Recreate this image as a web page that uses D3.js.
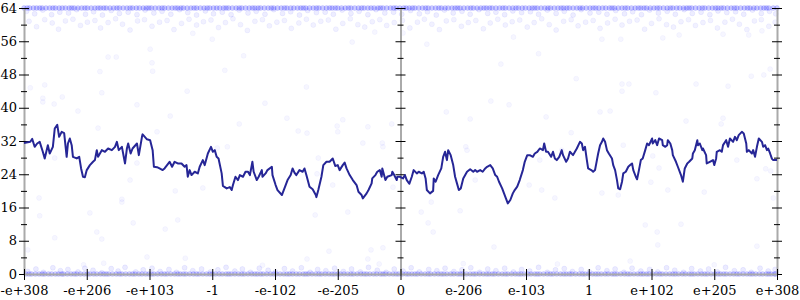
<!DOCTYPE html>
<meta charset="utf-8">
<style>
body { margin: 0; }
svg { display: block; background: #fff; }
.axis text { font: 13px "DejaVu Serif", serif; fill: #000; }
.axis .domain { stroke: #aaa; stroke-width: 2; }
.axis line { stroke: #000; }
.pt { fill: #00f; stroke: #00f; stroke-width: 0.8; }
.err { fill: none; stroke: #262696; stroke-width: 2; stroke-linejoin: round; }
</style>
<svg width="800" height="300"></svg>
<script src="https://d3js.org/d3.v7.min.js"></script>
<script>

// x is the ordinal position of the input float, 100 units per labelled tick
var xTicks  = [0, 100, 200, 300, 400, 500, 600, 700, 800, 900, 1000, 1100, 1200];
var xLabels = ["-e+308", "-e+206", "-e+103", "-1", "-e-102", "-e-205", "0",
               "e-206", "e-103", "1", "e+102", "e+205", "e+308"];
var yMajor = [0, 8, 16, 24, 32, 40, 48, 56, 64];
var yMinor = [4, 12, 20, 28, 36, 44, 52, 60];

// averaged bits of error (the dark line)
var lineX = [0,10,13,17,21,25,30,33,38,41,46,49,53,56,60,64,68,70,73,76,78,84,88,91,94,97,100,105,110,113,
  116,118,124,129,134,140,145,148,151,156,161,164,166,170,173,180,183,188,189,196,201,205,207,212,216,221,224,228,232,236,
  240,245,251,256,259,261,264,267,272,277,
  280,285,288,293,298,301,304,307,310,315,317,323,328,331,333,337,341,344,349,353,357,360,364,366,371,374,379,380,385,388,
  395,396,401,404,411,412,417,420,425,428,431,434,439,444,447,450,455,460,465,466,469,474,477,482,487,492,496,500,503,508,
  511,514,519,524,530,533,538,540,546,549,554,555,560,563,567,570,571,576,579,586,587,590,594,595,
  599,604,607,610,614,618,621,626,629,634,637,640,642,647,652,653,656,660,665,668,671,674,676,680,684,687,690,693,696,700,
  706,711,716,719,722,727,731,735,738,743,747,751,754,757,762,765,768,771,775,779,782,786,790,795,798,802,806,811,814,818,
  822,827,829,832,835,840,843,846,849,853,857,859,864,867,870,875,878,881,886,889,891,894,897,899,904,907,910,913,915,
  918,921,923,926,929,932,937,939,942,945,947,950,953,955,959,963,966,969,971,975,977,980,983,986,990,993,996,1001,1002,1006,
  1009,1012,1017,1018,1022,1025,1026,1030,1033,1034,1039,1042,1047,1050,1053,1057,1060,1065,1066,1069,1073,1074,1077,1081,1082,1087,1088,1093,1098,1100,
  1103,1104,1109,1112,1114,1119,1122,1125,1130,1133,1136,1139,1144,1147,1151,1152,1155,1160,1162,1165,1168,1171,1176,1178,1181,1184,1186,1189,1192,1194,1200];
var lineY = [31.5,31.8,32.5,30.6,31.4,31.8,29.4,27.8,31,29,30.6,35,35.9,33,34.2,33.9,28.2,31.4,32.6,31,
  28.2,27.8,28.2,25.4,23.4,23.3,25,26.2,27,27.4,29.8,28.2,29.8,29.4,30.2,29.8,30.6,31.8,29.8,30.6,
  26.6,30.2,31.4,29,30.2,31.4,28.6,33,33.6,32.4,32.2,29.8,25.8,25.7,25.4,25,25.4,26.2,27,25.8,
  27,26.6,26.6,25.8,26.2,23.4,25,23.8,24.6,24.2,
  25.8,27.4,26.2,29,30.6,29.4,29.8,28.2,27.8,24.2,21.2,20.6,20.9,20.2,21.4,23.4,22.6,23.8,23.4,24.6,
  24.6,23.8,27,24.6,22.6,23.4,25,23.4,24.2,25,25.8,23.8,21.4,20.2,19,19.4,21.4,22.6,23.8,25.4,
  24.4,23.8,25,24.6,25.4,23.8,21,20.4,19,18.5,20.2,23.4,26.2,27,27,27.8,26,26.2,25,26.2,
  26.8,25.4,23.8,22.6,21.4,19.8,19,18.2,19.4,20.2,21.8,23,23.8,24.6,25,23.4,25.4,22.6,23.4,23.8,
  24.6,23.8,22.6,23.4,
  23.4,23,23.8,22.6,21.7,23.4,25,24.2,24.6,24.2,24.6,23,20.2,19.4,20,23,22.2,23.8,25.4,28.2,
  29.4,27.4,29.8,28.6,26.2,23.4,21.8,20.2,20.6,23,24.6,25.2,24.6,25,24.6,25,24.6,25.4,25.8,26.2,
  25.4,23.8,23.4,22.2,20.6,19.4,18.2,17,17.8,19.4,20.2,21,22.6,25,27,28.6,28.6,28.2,29,29.4,
  30.2,29.8,31.4,29.4,29.4,28.2,29.4,27.8,27.4,28.2,29.8,28.6,27,27.8,29.4,28.6,29.4,30.2,31.8,31.4,
  29.8,30.6,27.4,25.4,25,24.6,25,27.4,29,
  31,31.8,32.6,31.8,29.8,29,27.8,26.2,25,22.6,20.6,20.4,22.2,24.2,24.6,25.8,26.2,26.6,25,23.4,
  22.8,25,27.4,27.8,29.8,31.4,31,32.6,31.4,32.2,31,32.6,32.2,31,30.6,31,32.2,31.4,29.8,28.6,
  27,25.8,23.8,22.2,25.4,26.6,27,27.8,29,29.8,32.2,31,31.4,29.8,30.2,28.6,26.6,27,27.4,26.2,
  27.8,29.4,29.8,29.4,31,32.2,30.6,32.6,31.8,33,32.2,33.4,34.2,33.8,31.4,29.4,29.8,29,29.8,28.2,
  30.6,32.6,31.8,30.6,31,29.8,30.2,29,27.7,27.4,27.4];

// sampled points: exact answers (0 bits) and fully wrong answers (64 bits)
var bandTop = [0,9,20,29,41,50,61,72,80,92,101,113,122,131,143,152,164,173,184,195,203,215,224,236,245,254,266,275,287,296,
  307,318,326,338,347,359,368,377,389,398,410,419,430,441,449,461,470,482,491,500,512,521,533,542,553,564,572,584,593,605,
  614,623,635,644,656,665,676,687,695,707,716,728,737,746,758,767,779,788,799,810,818,830,839,851,860,869,881,890,902,911,
  922,933,941,953,962,974,983,992,1004,1013,1025,1034,1045,1056,1064,1076,1085,1097,1106,1115,1127,1136,1148,1157,1168,1179,1187,1200,
  5,15,25,35,46,56,66,76,86,97,107,118,127,137,148,158,169,179,190,199,209,220,230,241,250,260,271,281,292,302,
  312,322,332,343,353,364,373,383,394,404,415,425,436,445,455,466,476,487,496,506,517,527,538,548,558,568,578,589,599,609,
  619,629,640,650,661,671,682,691,701,712,722,733,742,752,763,773,784,794,805,814,824,835,845,856,865,875,886,896,907,916,
  927,937,947,958,968,979,988,998,1009,1019,1030,1040,1051,1060,1070,1081,1091,1102,1111,1121,1132,1142,1153,1163,1174,1183,1194];
var bandBottom = [3,12,24,33,44,55,63,75,84,96,105,116,127,135,147,156,168,177,188,199,207,219,228,240,249,258,270,279,291,300,
  311,322,330,342,351,363,372,381,393,402,414,423,434,445,453,465,474,486,495,504,516,525,537,546,557,568,576,588,597,609,
  618,627,639,648,660,669,680,691,699,711,720,732,741,750,762,771,783,792,803,814,822,834,843,855,864,873,885,894,906,915,
  926,937,945,957,966,978,987,996,1008,1017,1029,1038,1049,1060,1068,1080,1089,1101,1110,1119,1131,1140,1152,1161,1172,1183,1191,1198,
  8,18,29,39,50,60,69,80,90,101,111,122,131,141,152,162,173,183,194,203,213,224,234,245,254,264,275,285,296,305,
  316,326,336,347,357,368,377,387,398,408,419,428,439,449,459,470,480,491,500,510,521,531,542,551,562,572,582,593,603,613,
  623,633,644,654,665,674,685,695,705,716,726,737,746,756,767,777,788,797,808,818,828,839,849,860,869,879,890,900,911,920,
  931,941,951,962,972,983,992,1002,1013,1023,1034,1043,1054,1064,1074,1085,1095,1106,1115,1125,1136,1146,1157,1166,1177,1187,1196];
var nearTop = [[4,63.2],[17,62.6],[30,63.5],[44,62.4],[57,63],[71,62.8],[84,63.6],[98,62.5],[111,63.1],[125,62.3],[139,63.4],[152,62.7],
  [166,63],[180,62.4],[193,63.5],[207,62.8],[220,63.2],[234,62.5],[248,63.6],[261,62.9],[275,62.3],[289,63.3],[302,62.6],[316,63],
  [330,62.4],[343,63.5],[357,62.8],[370,63.2],[384,62.5],[398,63.6],[412,62.7],[425,63.1],[439,62.3],[452,63.4],[466,62.9],[480,63],
  [493,62.5],[507,63.5],[521,62.7],[534,63.2],[548,62.4],[561,63.6],[575,62.8],[589,63],[602,62.5],[616,63.4],[630,62.6],[643,63.1],
  [657,62.3],[670,63.5],[684,62.8],[698,63.2],[711,62.5],[725,63.6],[739,62.7],[752,63],[766,62.4],[779,63.3],[793,62.9],[807,63.1],
  [820,62.5],[834,63.5],[848,62.7],[861,63.2],[875,62.3],[888,63.6],[902,62.8],[916,63],[929,62.5],[943,63.4],[957,62.6],[970,63.1],
  [984,62.4],[997,63.5],[1011,62.8],[1025,63.2],[1038,62.5],[1052,63.6],[1065,62.7],[1079,63],[1093,62.4],[1106,63.3],[1120,62.9],
  [1134,63.1],[1147,62.5],[1161,63.5],[1175,62.7],[1188,63.2],[1198,62.6]];
var midTop = [[8,60.8],[20,59.5],[33,61.2],[45,60.4],[55,58.9],[66,60.9],[78,61.3],[90,59.8],[101,60.6],[113,61.0],[122,59.2],
  [134,60.5],[146,61.4],[157,60.1],[169,58.7],[181,60.9],[192,61.2],[204,59.6],[216,60.6],[228,61.0],[239,58.8],[251,60.3],
  [263,61.3],[275,59.9],[286,60.7],[298,61.1],[310,59.3],[321,60.5],[333,61.4],[345,60.0],[356,58.6],[368,60.8],[380,61.2],
  [391,59.7],[403,60.6],[415,61.0],[426,59.1],[438,60.4],[450,61.3],[461,59.9],[473,60.8],[485,61.1],[497,58.9],[508,60.3],
  [520,61.4],[532,60.0],[543,59.4],[555,60.7],[567,61.2],[578,59.8],[590,60.5],[603,61.0],[615,59.2],[627,60.6],[638,61.3],
  [650,60.1],[662,58.8],[673,60.9],[685,61.2],[697,59.6],[708,60.5],[720,61.0],[732,59.0],[743,60.4],[755,61.3],[767,59.9],
  [778,60.7],[790,61.1],[802,59.4],[813,60.5],[825,61.4],[837,60.0],[848,58.7],[860,60.8],[872,61.2],[883,59.7],[895,60.6],
  [907,61.0],[918,59.1],[930,60.4],[942,61.3],[953,59.9],[965,60.8],[977,61.1],[989,58.9],[1000,60.3],[1012,61.4],[1024,60.0],
  [1035,59.4],[1047,60.7],[1059,61.2],[1070,59.8],[1082,60.5],[1094,61.0],[1105,59.2],[1117,60.6],[1129,61.3],[1140,60.1],
  [1152,58.8],[1164,60.9],[1175,61.2],[1187,59.6],[1197,60.6]];
var nearBottom = [[6,0.6],[19,1.2],[31,0.4],[46,1.5],[58,0.8],[70,1.1],[86,0.5],[97,1.4],[110,0.9],[124,0.3],[139,1.3],[150,0.7],
  [161,1.6],[178,0.5],[190,1.0],[204,1.4],[217,0.6],[231,1.1],[243,0.4],[256,1.5],[269,0.8],[283,1.2],[297,0.5],[309,1.0],
  [322,1.6],[336,0.7],[348,1.2],[361,0.4],[375,1.4],[389,0.9],[401,0.5],[415,1.3],[428,0.7],[442,1.5],[456,0.4],[468,1.1],
  [481,0.8],[495,1.4],[509,0.6],[522,1.2],[536,0.5],[549,1.6],[563,0.9],[577,0.4],[590,1.2],[604,0.7],[617,1.5],[630,0.5],
  [645,1.1],[658,0.8],[671,1.4],[685,0.6],[698,1.0],[712,1.5],[726,0.4],[739,1.2],[752,0.8],[766,1.4],[780,0.5],[793,1.1],
  [806,0.7],[820,1.6],[834,0.4],[847,1.0],[861,1.3],[874,0.6],[888,1.1],[901,0.5],[915,1.5],[929,0.8],[942,1.2],[956,0.4],
  [969,1.4],[983,0.7],[997,1.1],[1010,0.5],[1024,1.5],[1037,0.9],[1051,0.4],[1064,1.3],[1078,0.7],[1091,1.2],[1105,0.5],
  [1118,1.6],[1132,0.8],[1146,1.0],[1159,0.4],[1173,1.4],[1186,0.7],[1197,1.1]];
var sparse = [[121,48.7],[134,52.2],[147,52.2],[204,50.8],[205,48.8],[201,54.1],[10,44.8],[33,45.5],[124,43.6],[30,42.3],[61,42.6],
  [260,44],[269,57.9],[30,41.4],[48,40.9],[180,40.7],[233,38],[86,39.2],[118,35.1],[212,34.2],[49,27.9],[169,22.6],[241,20],
  [24,18.3],[156,18],[180,26.7],[25,14],[105,14.7],[116,10.1],[124,8.4],[49,8.7],[6,5.8],[174,12.3],[225,10.8],[245,13],
  [257,3.8],[196,4.1],[127,2.6],[156,17.3],[384,41.1],[343,36.1],[419,37.5],[437,34.4],[451,33.9],[499,35.6],[500,34.2],
  [508,37.1],[548,35.4],[586,36.1],[540,31.5],[571,31.5],[572,30.6],[324,30.6],[308,30.3],[469,27.9],[467,24.1],[285,20.7],
  [492,21.4],[588,20.9],[464,14.2],[516,14.9],[486,5.5],[553,5.8],[572,6.3],[451,3.6],[548,3.6],[649,17.3],[633,14.9],
  [644,12.3],[652,10.1],[695,15.2],[749,6.5],[566,2.4],[744,41.6],[773,40.7],[673,39],[711,37.3],[832,37.8],[872,34],
  [918,39],[704,30.6],[706,29.8],[857,29.8],[822,27.4],[719,22.6],[805,21.4],[825,20.2],[846,18.3],[934,39.2],[1055,36.8],
  [1114,37.5],[1111,36.1],[955,31],[1002,28.4],[1136,27.4],[1012,25.5],[1182,25.3],[1190,24.8],[999,22.1],[1168,22.9],
  [1026,20.2],[1084,19.7],[1194,18.3],[921,19.5],[947,19],[990,11.8],[1009,10.1],[1047,12],[1010,7],[966,3.1],[1168,6.7],
  [953,45.7],[964,45.7],[953,44],[1007,43.6],[1071,45.7],[1122,45.2],[1159,47.6],[1179,47.9],[1189,49.3],[921,56.5],
  [951,56.5],[1018,56.8],[1044,57.5],[1114,57.7],[1155,57.5],[1176,58.5],[523,55.8],[642,55.3],[604,58],[559,58.2],
  [350,52.5],[320,49],[760,50.5],[820,53],[880,47],[300,56.5],[450,45],[780,57],
  [95,2.2],[380,2.1],[850,2.4],[1100,2.2],[700,2.5]];

var svg = d3.select("svg");

var x = d3.scaleLinear().domain([0, 1200]).range([24, 777]);
var y = d3.scaleLinear().domain([0, 64]).range([274, 8]);

// points first, faint and overlapping
function drawPoints(data, fillOp, strokeOp) {
  svg.append("g").selectAll("circle")
    .data(data)
    .enter().append("circle")
      .attr("class", "pt")
      .attr("cx", function(d) { return x(d[0]); })
      .attr("cy", function(d) { return y(d[1]); })
      .attr("r", 2.5)
      .attr("fill-opacity", fillOp)
      .attr("stroke-opacity", strokeOp);
}

drawPoints(sparse, 0.035, 0.045);
drawPoints(midTop, 0.055, 0.06);
drawPoints(nearTop, 0.07, 0.07);
drawPoints(nearBottom, 0.08, 0.08);
drawPoints(bandTop.map(function(v) { return [v, 64]; }), 0.2, 0.12);
drawPoints(bandBottom.map(function(v) { return [v, 0]; }), 0.18, 0.11);

// three vertical axes: left edge, zero, right edge
[0, 600, 1200].forEach(function(p) {
  var g = svg.append("g")
      .attr("class", "axis")
      .attr("transform", "translate(" + x(p) + ",0)");

  var gMaj = g.append("g")
      .call(d3.axisLeft(y)
        .tickValues(yMajor)
        .tickSizeInner(10)
        .tickSizeOuter(0)
        .tickFormat(p === 0 ? d3.format("d") : ""));
  gMaj.selectAll(".tick line").attr("x1", 5).attr("x2", -5);
  gMaj.selectAll(".tick text").attr("x", -7);

  var gMin = g.append("g")
      .call(d3.axisLeft(y).tickValues(yMinor).tickSize(6).tickFormat(""));
  gMin.select(".domain").remove();
  gMin.selectAll(".tick line").attr("x1", 3).attr("x2", -3);
});

var gx = svg.append("g")
    .attr("class", "axis")
    .attr("transform", "translate(0," + y(0) + ")")
    .call(d3.axisBottom(x)
      .tickValues(xTicks)
      .tickSizeInner(6)
      .tickSizeOuter(0)
      .tickFormat(function(d, i) { return xLabels[i]; }));
gx.selectAll(".tick line").attr("y1", -5).attr("y2", 6);
gx.selectAll(".tick text").attr("y", 12);

var line = d3.line()
    .x(function(d) { return x(d[0]); })
    .y(function(d) { return y(d[1]); });

svg.append("path")
    .datum(lineX.map(function(v, i) { return [v, lineY[i]]; }))
    .attr("class", "err")
    .attr("d", line);

</script>
